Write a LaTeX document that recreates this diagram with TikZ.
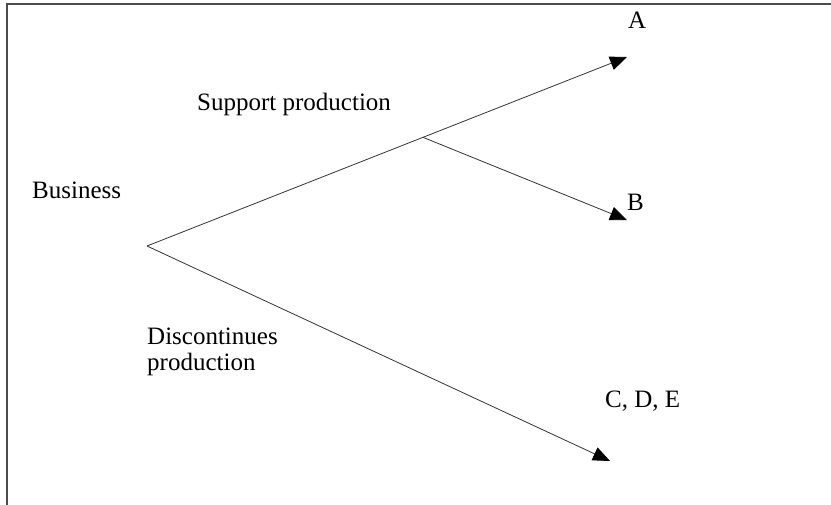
\documentclass[tikz,border=0pt]{standalone}
\usepackage{fontspec}
\setmainfont{Liberation Serif}
\usepackage{tikz}
\usetikzlibrary{arrows.meta,positioning,calc}

\tikzset{
    branch/.style={draw=black!80, line width=0.8pt},
    tip/.style={-{Triangle[length=17pt,width=14pt,color=black]}},
    lbl/.style={inner sep=0pt, anchor=base west, font=\fontsize{25}{26}\selectfont}
}

\begin{document}
\begin{tikzpicture}[x=1pt, y=-1pt]
    \useasboundingbox (0, 0) rectangle (831, 504);
    \clip (0, 0) rectangle (831, 504);

    % Frame
    \draw [black!70, line width=2.5pt] (7, 4) rectangle (840, 515);

    % Tree points
    \coordinate (o) at (147, 246);
    \coordinate (tipA) at (627, 57);
    \coordinate (fork) at ($(o)!0.575!(tipA)$);
    \coordinate (tipB) at (627, 220);
    \coordinate (tipC) at (610, 461);

    % Branches
    \draw [branch, tip] (o) -- (tipA);
    \draw [branch, tip] (fork) -- (tipB);
    \draw [branch, tip] (o) -- (tipC);

    % Labels
    \node [lbl] (biz) at (32, 198) {Business};
    \node [lbl] (supp) at (197, 110) {Support production};
    \node [lbl, align=left] (disc) at (147, 370) {Discontinues\\production};
    \node [lbl] (a) at (628, 28) {A};
    \node [lbl] (b) at (627, 210) {B};
    \node [lbl] (cde) at (605, 407) {C, D, E};
\end{tikzpicture}
\end{document}
